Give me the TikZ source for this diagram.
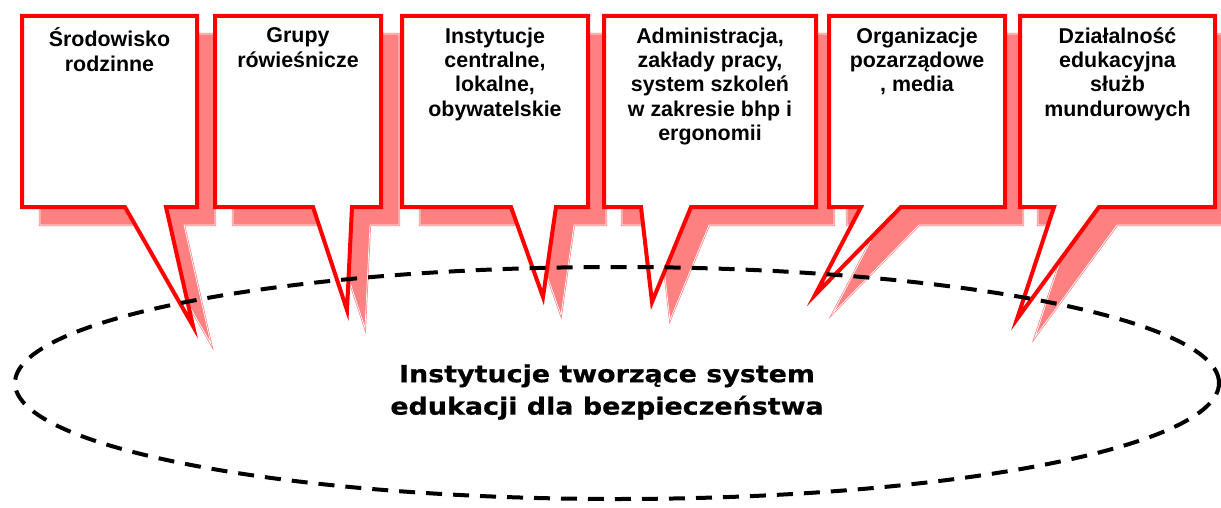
\documentclass[tikz,border=0pt]{standalone}
\usepackage{fontspec}
\setmainfont{Liberation Sans}
\newfontfamily\edufont{DejaVu Sans}[FakeStretch=1.14, BoldFeatures={FakeBold=0.6}]
\usetikzlibrary{shapes}

\begin{document}
\begin{tikzpicture}[x=0.5pt, y=-0.5pt]

\tikzstyle{shadowbox} = [fill=red!50, draw=red!50, line width=0.35pt, double=white, double distance=0.35pt, transform canvas={shift={(9pt,-9pt)}}]
\tikzstyle{bubble} = [draw=red, line width=2pt, fill=white, preaction={shadowbox}]
\tikzstyle{boxtext} = [anchor=north, inner sep=0pt, align=center, font=\bfseries\fontsize{10.7}{12.1}\selectfont, execute at begin node=\rule{0pt}{10pt}]
\tikzstyle{ring} = [ellipse, draw, line width=2pt, dash pattern=on 8pt off 5.5pt, minimum width=602pt, minimum height=116pt, inner sep=0pt]
\tikzstyle{ringtext} = [align=center, font=\edufont\bfseries\fontsize{11.8}{16.2}\selectfont]

\useasboundingbox (0,0) rectangle (1221,508);

% callouts
\draw [bubble] (22,16) -- (197,16) -- (197,207) -- (166,207) -- (193,326) -- (125,207) -- (22,207) -- cycle;
\draw [bubble] (215,16) -- (381,16) -- (381,207) -- (352,207) -- (347,310) -- (313,207) -- (215,207) -- cycle;
\draw [bubble] (402,16) -- (588,16) -- (588,207) -- (556,207) -- (543,297) -- (511,207) -- (402,207) -- cycle;
\draw [bubble] (604,16) -- (816,16) -- (816,207) -- (691,207) -- (652,302) -- (641,207) -- (604,207) -- cycle;
\draw [bubble] (829,16) -- (1005,16) -- (1005,207) -- (901,207) -- (815,295) -- (861,207) -- (829,207) -- cycle;
\draw [bubble] (1020,16) -- (1215,16) -- (1215,207) -- (1099,207) -- (1017,319) -- (1054,207) -- (1020,207) -- cycle;

\node (home) [boxtext] at (109.5,27.5) {Środowisko\\rodzinne};
\node (peers) [boxtext] at (298,27.5) {Grupy\\rówieśnicze};
\node (govt) [boxtext] at (495,27.5) {Instytucje\\centralne,\\lokalne,\\obywatelskie};
\node (admin) [boxtext] at (710,27.5) {Administracja,\\zakłady pracy,\\system szkoleń\\w zakresie bhp i\\ergonomii};
\node (ngo) [boxtext] at (917,27.5) {Organizacje\\pozarządowe\\, media};
\node (uniform) [boxtext] at (1117.5,27.5) {Działalność\\edukacyjna\\służb\\mundurowych};

% ellipse
\node (edu) [ring] at (617,383) {};
\node (edutext) [ringtext] at (607,392) {Instytucje tworzące system\\edukacji dla bezpieczeństwa};
\end{tikzpicture}
\end{document}
